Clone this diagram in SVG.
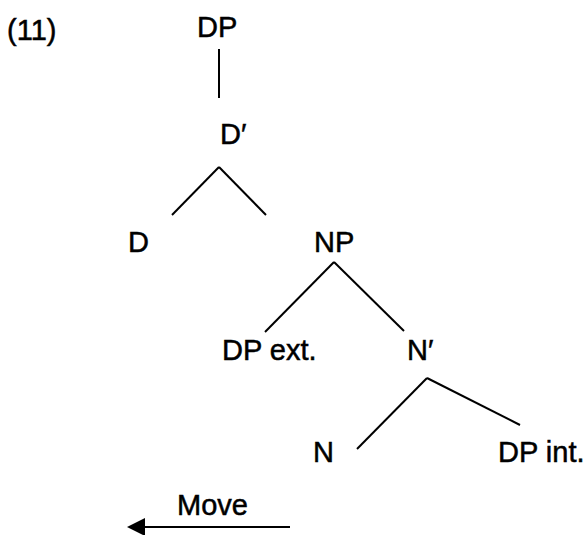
<svg xmlns="http://www.w3.org/2000/svg" width="588" height="535" viewBox="0 0 588 535">
  <style>
    text { font-family: "Liberation Sans", Arial, sans-serif; font-size: 29px; fill: #000; stroke: #000; stroke-width: 0.5px; }
    .edge { stroke: #000; stroke-width: 2; fill: none; stroke-linecap: butt; }
  </style>
  <defs>
    <marker id="arrow" markerUnits="userSpaceOnUse" markerWidth="18" markerHeight="20" refX="0" refY="10" orient="auto" viewBox="0 0 18 20">
      <polygon points="18,10 0,1 0,19" fill="#000"/>
    </marker>
  </defs>
  <rect width="588" height="535" fill="#fff"/>
  <g id="label-11"><text x="7" y="40">(11)</text></g>
  <g id="node-DP"><text x="197" y="37">DP</text></g>
  <g id="node-Dbar"><text x="220" y="144">D′</text></g>
  <g id="node-D"><text x="128" y="252">D</text></g>
  <g id="node-NP"><text x="314" y="252">NP</text></g>
  <g id="node-DPext"><text x="222" y="360">DP ext.</text></g>
  <g id="node-Nbar"><text x="407" y="360">N′</text></g>
  <g id="node-N"><text x="313" y="462">N</text></g>
  <g id="node-DPint"><text x="498" y="462">DP int.</text></g>
  <g id="label-move"><text x="177" y="515">Move</text></g>
  <g id="connectors">
    <line class="edge" x1="219" y1="49" x2="219" y2="98"/>
    <line class="edge" x1="219" y1="167" x2="172" y2="215"/>
    <line class="edge" x1="219" y1="167" x2="266" y2="215"/>
    <line class="edge" x1="334" y1="262" x2="265" y2="332"/>
    <line class="edge" x1="334" y1="262" x2="404" y2="331"/>
    <line class="edge" x1="427" y1="378" x2="357" y2="449"/>
    <line class="edge" x1="427" y1="378" x2="520" y2="425"/>
    <line class="edge" x1="290" y1="527" x2="145" y2="527" marker-end="url(#arrow)"/>
  </g>
</svg>
